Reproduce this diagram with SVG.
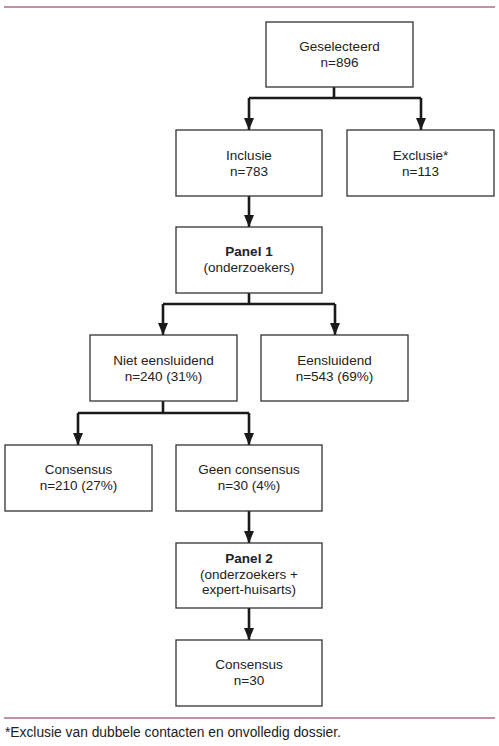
<svg xmlns="http://www.w3.org/2000/svg" width="499" height="746" viewBox="0 0 499 746">
<style>
.box{fill:#fff;stroke:#333;stroke-width:1.3}
.t{font-family:"Liberation Sans",Arial,sans-serif;font-size:13.5px;fill:#222;text-anchor:middle}
.b{font-weight:bold}
.c{fill:none;stroke:#1a1a1a;stroke-width:2.6}
.rule{stroke:#8b2250;stroke-width:1.2}
</style>
<defs>
<marker id="arr" viewBox="0 0 12 10" refX="12" refY="5" markerWidth="12" markerHeight="10" markerUnits="userSpaceOnUse" orient="auto">
<path d="M0,0 L12,5 L0,10 Z" fill="#1a1a1a"/>
</marker>
</defs>
<line class="rule" x1="4" y1="7" x2="495" y2="7"/>
<g id="connectors">
<path class="c" d="M334,87 V98 M249,98 H421"/>
<path class="c" d="M249,98 V130" marker-end="url(#arr)"/>
<path class="c" d="M421,98 V130" marker-end="url(#arr)"/>
<path class="c" d="M249,196 V227" marker-end="url(#arr)"/>
<path class="c" d="M249,293 V304 M163,304 H335"/>
<path class="c" d="M163,304 V335" marker-end="url(#arr)"/>
<path class="c" d="M335,304 V335" marker-end="url(#arr)"/>
<path class="c" d="M163,401 V413 M78,413 H249"/>
<path class="c" d="M78,413 V445" marker-end="url(#arr)"/>
<path class="c" d="M249,413 V445" marker-end="url(#arr)"/>
<path class="c" d="M249,511 V543" marker-end="url(#arr)"/>
<path class="c" d="M249,608 V640" marker-end="url(#arr)"/>
</g>
<g id="geselecteerd">
<rect class="box" x="266" y="22" width="147" height="65"/>
<text class="t" x="339.5" y="51">Geselecteerd</text>
<text class="t" x="339.5" y="67">n=896</text>
</g>
<g id="inclusie">
<rect class="box" x="176" y="130" width="146" height="66"/>
<text class="t" x="249" y="160">Inclusie</text>
<text class="t" x="249" y="176">n=783</text>
</g>
<g id="exclusie">
<rect class="box" x="347" y="130" width="147" height="66"/>
<text class="t" x="420.5" y="160">Exclusie*</text>
<text class="t" x="420.5" y="176">n=113</text>
</g>
<g id="panel1">
<rect class="box" x="176" y="227" width="146" height="66"/>
<text class="t b" x="249" y="256">Panel 1</text>
<text class="t" x="249" y="272">(onderzoekers)</text>
</g>
<g id="niet-eensluidend">
<rect class="box" x="90" y="335" width="147" height="66"/>
<text class="t" x="163.5" y="365">Niet eensluidend</text>
<text class="t" x="163.5" y="381">n=240 (31%)</text>
</g>
<g id="eensluidend">
<rect class="box" x="261" y="335" width="147" height="66"/>
<text class="t" x="334.5" y="365">Eensluidend</text>
<text class="t" x="334.5" y="381">n=543 (69%)</text>
</g>
<g id="consensus1">
<rect class="box" x="5" y="445" width="147" height="66"/>
<text class="t" x="78.5" y="474">Consensus</text>
<text class="t" x="78.5" y="490">n=210 (27%)</text>
</g>
<g id="geen-consensus">
<rect class="box" x="176" y="445" width="146" height="66"/>
<text class="t" x="249" y="474">Geen consensus</text>
<text class="t" x="249" y="490">n=30 (4%)</text>
</g>
<g id="panel2">
<rect class="box" x="176" y="543" width="146" height="65"/>
<text class="t b" x="249" y="563">Panel 2</text>
<text class="t" x="249" y="578.5">(onderzoekers +</text>
<text class="t" x="249" y="594">expert-huisarts)</text>
</g>
<g id="consensus2">
<rect class="box" x="176" y="640" width="146" height="66"/>
<text class="t" x="249" y="669">Consensus</text>
<text class="t" x="249" y="685">n=30</text>
</g>
<line class="rule" x1="4" y1="718" x2="495" y2="718"/>
<text x="5" y="737" style="font-family:'Liberation Sans',Arial,sans-serif;font-size:13.8px;fill:#222">*Exclusie van dubbele contacten en onvolledig dossier.</text>
</svg>
